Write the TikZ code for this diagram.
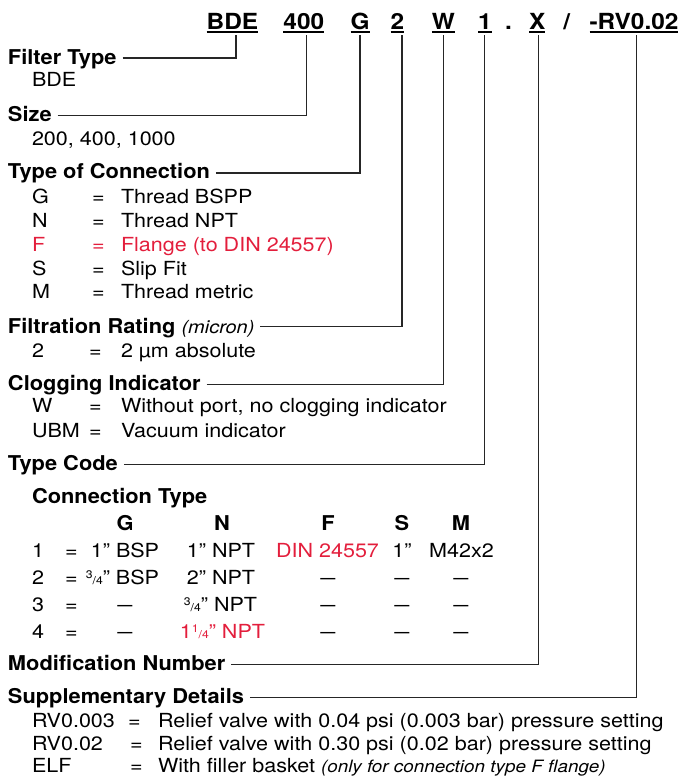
\documentclass[tikz,border=0pt]{standalone}
\usepackage{fontspec}
\usepackage{graphicx}
\setmainfont{TeX Gyre Heros}[FakeStretch=1.11]
\newfontfamily\hdrfont{TeX Gyre Heros}[FakeStretch=1.1]
\newfontfamily\lblfont{TeX Gyre Heros}[FakeStretch=1.07]
\definecolor{codered}{RGB}{227,30,60}
\newcommand{\txtsize}{\fontsize{19.4}{22}\selectfont}
\newcommand{\frc}[2]{{\fontsize{11}{11}\selectfont\raisebox{6pt}{#1}/#2}}
\newcommand{\dsh}{\scalebox{0.7}[1]{—}}
\tikzset{
  every node/.style={inner sep=0pt,outer sep=0pt},
  hdr/.style={anchor=base,font=\hdrfont\bfseries\fontsize{22.2}{24}\selectfont},
  lbl/.style={anchor=base west,font=\lblfont\bfseries\fontsize{20.4}{22}\selectfont},
  colhead/.style={anchor=base,font=\lblfont\bfseries\fontsize{20.4}{22}\selectfont},
  txt/.style={anchor=base west,font=\txtsize},
  cell/.style={anchor=base,font=\txtsize},
  hl/.style={text=codered},
  conn/.style={draw=black!85,line width=1.3pt},
  uline/.style={draw=black,line width=2pt},
}
\begin{document}
\begin{tikzpicture}[x=1pt,y=-1pt]
\useasboundingbox (0,0) rectangle (688,779);
% ---------------- header code ----------------
\node[hdr] (hBDE) at (232.5,29.3) {BDE};
\node[hdr] (hSZ)  at (303.8,29.3) {400};
\node[hdr] (hCON) at (360,29.3) {G};
\node[hdr] (hFR)  at (397.5,29.3) {2};
\node[hdr] (hCI)  at (443.3,29.3) {W};
\node[hdr] (hTC)  at (484.8,29.3) {1};
\node[hdr] (hDOT) at (508.5,29.3) {.};
\node[hdr] (hMN)  at (537.3,29.3) {X};
\node[hdr] (hSL)  at (566.7,29.3) {/};
\node[hdr] (hSD)  at (634,29.3) {-RV0.02};
\foreach \n in {hBDE,hSZ,hCON,hFR,hCI,hTC,hMN,hSD}
  \draw[uline] ([yshift=-3pt]\n.base west) -- ([yshift=-3pt]\n.base east);

% ---------------- Filter Type ----------------
\node[lbl] (lFT) at (8,64) {Filter Type};
\node[txt] (vFT) at (32,86) {BDE};
% ---------------- Size ----------------
\node[lbl] (lSZ) at (8,121.7) {Size};
\node[txt] (vSZ) at (32,145) {200, 400, 1000};
% ---------------- Type of Connection ----------------
\node[lbl] (lCON) at (8,178) {Type of Connection};
\node[txt] (c1a) at (32,203) {G};
\node[txt] (c1b) at (92,203) {=};
\node[txt] (c1c) at (121,203) {Thread BSPP};
\node[txt] (c2a) at (32,227) {N};
\node[txt] (c2b) at (92,227) {=};
\node[txt] (c2c) at (121,227) {Thread NPT};
\node[txt,hl] (c3a) at (32,251) {F};
\node[txt,hl] (c3b) at (92,251) {=};
\node[txt,hl] (c3c) at (121,251) {Flange (to DIN 24557)};
\node[txt] (c4a) at (32,275) {S};
\node[txt] (c4b) at (92,275) {=};
\node[txt] (c4c) at (121,275) {Slip Fit};
\node[txt] (c5a) at (32,298) {M};
\node[txt] (c5b) at (92,298) {=};
\node[txt] (c5c) at (121,298) {Thread metric};
% ---------------- Filtration Rating ----------------
\node[lbl] (lFR) at (8,333) {Filtration Rating {\normalfont\itshape\fontsize{18}{20}\selectfont(micron)}};
\node[txt] (f1a) at (32,357) {2};
\node[txt] (f1b) at (89,357) {=};
\node[txt] (f1c) at (121,357) {2 µm absolute};
% ---------------- Clogging Indicator ----------------
\node[lbl] (lCI) at (8,390.7) {Clogging Indicator};
\node[txt] (g1a) at (32,412) {W};
\node[txt] (g1b) at (89,412) {=};
\node[txt] (g1c) at (121,412) {Without port, no clogging indicator};
\node[txt] (g2a) at (32,437) {UBM};
\node[txt] (g2b) at (89,437) {=};
\node[txt] (g2c) at (121,437) {Vacuum indicator};
% ---------------- Type Code ----------------
\node[lbl] (lTC) at (8,470) {Type Code};
\node[lbl] (tCT) at (32,503) {Connection Type};
\node[colhead] (tG) at (125,530) {G};
\node[colhead] (tN) at (222,530) {N};
\node[colhead] (tF) at (328,530) {F};
\node[colhead] (tS) at (402,530) {S};
\node[colhead] (tM) at (461,530) {M};
% row 1
\node[txt] (r1n) at (32,557) {1};
\node[txt] (r1e) at (65,557) {=};
\node[cell] (r1g) at (125,557) {1” BSP};
\node[cell] (r1N) at (221,557) {1” NPT};
\node[cell,hl] (r1f) at (327.5,557) {DIN 24557};
\node[cell] (r1s) at (402,557) {1”};
\node[cell] (r1m) at (461.5,557) {M42x2};
% row 2
\node[txt] (r2n) at (32,584) {2};
\node[txt] (r2e) at (65,584) {=};
\node[cell] (r2g) at (122.5,584) {\frc{3}{4}” BSP};
\node[cell] (r2N) at (221,584) {2” NPT};
\node[cell] (r2f) at (328,584) {\dsh};
\node[cell] (r2s) at (402,584) {\dsh};
\node[cell] (r2m) at (461,584) {\dsh};
% row 3
\node[txt] (r3n) at (32,611.5) {3};
\node[txt] (r3e) at (65,611.5) {=};
\node[cell] (r3g) at (125,611.5) {\dsh};
\node[cell] (r3N) at (220.5,611.5) {\frc{3}{4}” NPT};
\node[cell] (r3f) at (328,611.5) {\dsh};
\node[cell] (r3s) at (402,611.5) {\dsh};
\node[cell] (r3m) at (461,611.5) {\dsh};
% row 4
\node[txt] (r4n) at (32,638) {4};
\node[txt] (r4e) at (65,638) {=};
\node[cell] (r4g) at (125,638) {\dsh};
\node[cell,hl] (r4N) at (222.5,638) {1\frc{1}{4}” NPT};
\node[cell] (r4f) at (328,638) {\dsh};
\node[cell] (r4s) at (402,638) {\dsh};
\node[cell] (r4m) at (461,638) {\dsh};
% ---------------- Modification Number ----------------
\node[lbl] (lMN) at (8,670.7) {Modification Number};
% ---------------- Supplementary Details ----------------
\node[lbl] (lSD) at (8,703.3) {Supplementary Details};
\node[txt] (s1a) at (32,727.3) {RV0.003};
\node[txt] (s1b) at (128,727.3) {=};
\node[txt] (s1c) at (158,727.3) {Relief valve with 0.04 psi (0.003 bar) pressure setting};
\node[txt] (s2a) at (32,750) {RV0.02};
\node[txt] (s2b) at (130,750) {=};
\node[txt] (s2c) at (158,750) {Relief valve with 0.30 psi (0.02 bar) pressure setting};
\node[txt] (s3a) at (32,772) {ELF};
\node[txt] (s3b) at (130,772) {=};
\node[txt] (s3c) at (158,772) {With filler basket {\itshape\fontsize{17}{20}\selectfont(only for connection type F flange)}};

% ---------------- connectors ----------------
\draw[conn] ([xshift=6pt,yshift=6pt]lFT.base east)  -| ([xshift=3.5pt,yshift=-6pt]hBDE.base);
\draw[conn] ([xshift=6pt,yshift=6pt]lSZ.base east)  -| ([xshift=3pt,yshift=-6pt]hSZ.base);
\draw[conn] ([xshift=6pt,yshift=5pt]lCON.base east) -| ([yshift=-6pt]hCON.base);
\draw[conn] ([xshift=6pt,yshift=6.5pt]lFR.base east)  -| ([xshift=4.5pt,yshift=-6pt]hFR.base);
\draw[conn] ([xshift=6pt,yshift=6.5pt]lCI.base east)  -| ([yshift=-6pt]hCI.base);
\draw[conn] ([xshift=6pt,yshift=5.5pt]lTC.base east)  -| ([yshift=-6pt]hTC.base);
\draw[conn] ([xshift=6pt,yshift=6.5pt]lMN.base east)  -| ([xshift=1pt,yshift=-6pt]hMN.base);
\draw[conn] ([xshift=6pt,yshift=5.5pt]lSD.base east)  -| ([xshift=2.7pt,yshift=-6pt]hSD.base);
\end{tikzpicture}
\end{document}
